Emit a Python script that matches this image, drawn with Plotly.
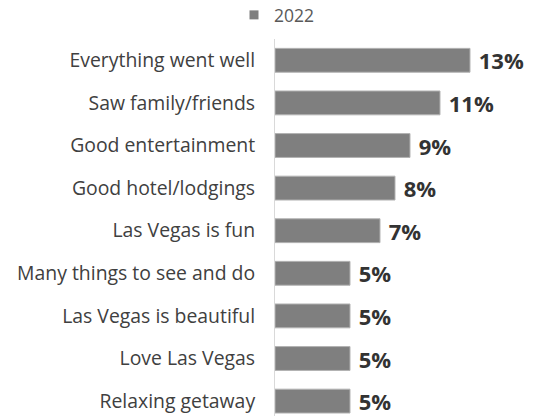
import plotly.graph_objects as go

categories = ["Everything went well", "Saw family/friends", "Good entertainment",
              "Good hotel/lodgings", "Las Vegas is fun", "Many things to see and do",
              "Las Vegas is beautiful", "Love Las Vegas", "Relaxing getaway"]
values_2022 = [13, 11, 9, 8, 7, 5, 5, 5, 5]
series_name = "2022"

W, H = 534, 416
L, T = 275, 39
PW, PH = W - L, H - T

fig = go.Figure()
fig.add_trace(go.Bar(
    y=categories, x=values_2022, orientation="h",
    marker=dict(color="#7f7f7f", line=dict(color="#b3b3b3", width=1)),
    width=0.56, showlegend=False, hoverinfo="skip",
    text=[f"{v}%" for v in values_2022], textposition="outside",
    constraintext="none",
    textfont=dict(family="Open Sans", size=22, color="#333333"),
    texttemplate="<b> %{text}</b>", cliponaxis=False,
))
fig.add_trace(go.Scatter(
    x=[None], y=[None], mode="markers", name=series_name,
    marker=dict(symbol="square", size=9, color="#7f7f7f"),
))

fig.update_layout(
    width=W, height=H,
    margin=dict(l=L, r=0, t=T, b=0, pad=0, autoexpand=False),
    paper_bgcolor="white", plot_bgcolor="white",
    font=dict(family="Open Sans", color="#404040"),
    xaxis=dict(range=[0, PW / 15], visible=False, showgrid=False),
    yaxis=dict(categoryorder="array", categoryarray=categories,
               range=[-0.5 + PH / 42.6, -0.5], automargin=False,
               showline=True, linecolor="#d9d9d9", linewidth=1,
               ticks="", ticklabelstandoff=15,
               tickfont=dict(family="Open Sans", size=19.4, color="#404040"),
               showgrid=False, zeroline=False),
    legend=dict(orientation="h", x=(234 - L) / PW, xanchor="left",
                y=1 + (T - 15) / PH, yanchor="middle",
                font=dict(family="Open Sans", size=17.5, color="#595959"),
                itemwidth=30, borderwidth=0, bgcolor="rgba(0,0,0,0)"),
    bargap=0.44,
)

fig.write_html("out.html", config={"displayModeBar": False},
               post_script="document.body.style.margin='0';document.body.style.overflow='hidden';")
